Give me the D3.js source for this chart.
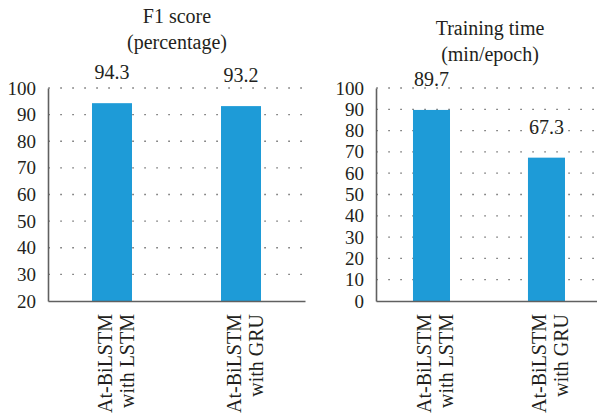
<!DOCTYPE html>
<html>
<head>
<meta charset="utf-8">
<script src="https://cdn.jsdelivr.net/npm/d3@7/dist/d3.min.js"></script>
<style>
  html, body { margin: 0; padding: 0; background: #fff; }
  svg { display: block; }
</style>
</head>
<body>
<svg id="chart" width="597" height="415" font-family="'Liberation Serif', 'Times New Roman', serif"></svg>
<script>
// Model variants compared in both panels
const models = ["At-BiLSTM with LSTM", "At-BiLSTM with GRU"];
const modelLines = [["At-BiLSTM", "with LSTM"], ["At-BiLSTM", "with GRU"]];

// Panel 1: F1 score (percentage)
const f1Values = [94.3, 93.2];
const f1Ticks = [20, 30, 40, 50, 60, 70, 80, 90, 100];
const f1Title = ["F1 score", "(percentage)"];

// Panel 2: training time (min/epoch)
const timeValues = [89.7, 67.3];
const timeTicks = [0, 10, 20, 30, 40, 50, 60, 70, 80, 90, 100];
const timeTitle = ["Training time", "(min/epoch)"];

const svg = d3.select("#chart");
const serif = "'Liberation Serif', 'Times New Roman', serif";
const textColor = "#231f20";
const barColor = "#1e9bd7";
const axisColor = "#606060";

function panel(opts) {
  const { values, ticks, title, x0, x1, yTop, yBottom, padInner, padOuter, align, titleX, titleY } = opts;
  const g = svg.append("g").attr("font-family", serif).attr("fill", textColor);

  const x = d3.scaleBand()
    .domain(models)
    .range([x0, x1])
    .paddingInner(padInner)
    .paddingOuter(padOuter)
    .align(align);

  const y = d3.scaleLinear()
    .domain([ticks[0], ticks[ticks.length - 1]])
    .range([yBottom, yTop]);

  // dotted gridlines (skip the baseline)
  g.append("g")
    .selectAll("line")
    .data(ticks.slice(1))
    .join("line")
    .attr("x1", x0)
    .attr("x2", x1)
    .attr("y1", d => y(d))
    .attr("y2", d => y(d))
    .attr("stroke", "#555")
    .attr("stroke-width", 1.3)
    .attr("stroke-dasharray", "1.3,10.7")
    .attr("stroke-dashoffset", -12.4);

  // bars
  g.append("g")
    .selectAll("rect")
    .data(values)
    .join("rect")
    .attr("x", (d, i) => x(models[i]))
    .attr("width", x.bandwidth())
    .attr("y", d => y(d))
    .attr("height", d => y(ticks[0]) - y(d))
    .attr("fill", barColor);

  // value labels
  g.append("g")
    .selectAll("text")
    .data(values)
    .join("text")
    .attr("x", (d, i) => x(models[i]) + x.bandwidth() / 2)
    .attr("y", d => y(d) - 24)
    .attr("text-anchor", "middle")
    .attr("font-family", serif)
    .attr("font-size", 20)
    .attr("fill", textColor)
    .text(d => d.toFixed(1));

  // y axis
  const yAxis = g.append("g")
    .attr("transform", `translate(${x0},0)`)
    .call(d3.axisLeft(y).tickValues(ticks).tickSize(0).tickPadding(12).tickFormat(d3.format("d")))
    .attr("font-family", serif)
    .attr("font-size", 19);
  yAxis.select(".domain").attr("stroke", axisColor).attr("stroke-width", 1.6);
  yAxis.selectAll("text").attr("fill", textColor);

  // x axis baseline
  const xAxis = g.append("g")
    .attr("transform", `translate(0,${yBottom})`)
    .call(d3.axisBottom(x).tickSize(0).tickFormat(""));
  xAxis.select(".domain").attr("stroke", axisColor).attr("stroke-width", 1.6);

  // rotated category labels
  models.forEach((m, i) => {
    const cx = x(m) + x.bandwidth() / 2;
    const t = g.append("text")
      .attr("transform", `translate(${cx},${yBottom + 13}) rotate(-90)`)
      .attr("text-anchor", "end")
      .attr("font-family", serif)
      .attr("font-size", 20)
      .attr("fill", textColor);
    modelLines[i].forEach((line, j) => {
      t.append("tspan")
        .attr("x", 0)
        .attr("y", j * 22)
        .text(line);
    });
  });

  // title
  const tt = g.append("text")
    .attr("x", titleX)
    .attr("y", titleY)
    .attr("text-anchor", "middle")
    .attr("font-family", serif)
    .attr("font-size", 20)
    .attr("fill", textColor);
  title.forEach((line, j) => {
    tt.append("tspan").attr("x", titleX).attr("y", titleY + j * 26).text(line);
  });
}

panel({
  values: f1Values, ticks: f1Ticks, title: f1Title,
  x0: 48, x1: 305, yTop: 88, yBottom: 301,
  padInner: 0.69, padOuter: 0.341, align: 0.5,
  titleX: 177, titleY: 23
});

panel({
  values: timeValues, ticks: timeTicks, title: timeTitle,
  x0: 376, x1: 597, yTop: 88, yBottom: 301,
  padInner: 0.678, padOuter: 0.3, align: 0.536,
  titleX: 490, titleY: 35
});
</script>
</body>
</html>
